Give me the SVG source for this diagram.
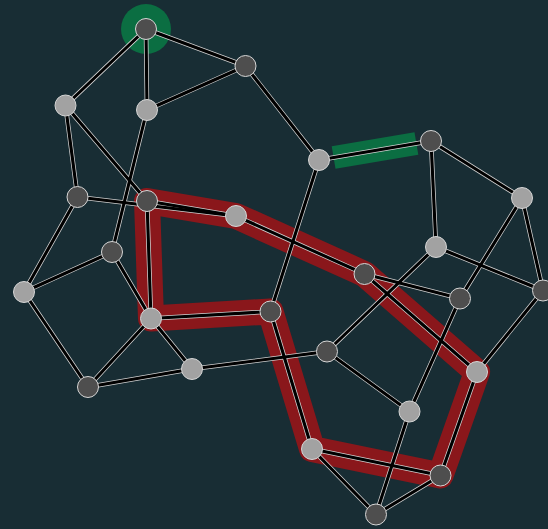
<svg xmlns="http://www.w3.org/2000/svg" width="548" height="529" viewBox="0 0 548 529">
<style>
.bg{fill:#182d34}
.e1{stroke:#d2d2d2;stroke-width:4.6;fill:none;stroke-linecap:round}
.e2{stroke:#000;stroke-width:3.1;fill:none;stroke-linecap:round}
.nd circle{stroke:#d6d6d6;stroke-width:1}
.l{fill:#a2a2a2}
.d{fill:#4e4e4e}
.hl-red{fill:none;stroke:#8a171b;stroke-width:26;stroke-linejoin:round}
.hl-green{fill:#0b6e42;stroke:none}
</style>
<defs>
<g id="edges-geo">
<line x1="146" y1="29" x2="245.5" y2="66"/>
<line x1="146" y1="29" x2="65.5" y2="105.5"/>
<line x1="146" y1="29" x2="147" y2="110"/>
<line x1="147" y1="110" x2="245.5" y2="66"/>
<line x1="245.5" y1="66" x2="319" y2="160"/>
<line x1="65.5" y1="105.5" x2="77.5" y2="197"/>
<line x1="65.5" y1="105.5" x2="147" y2="201"/>
<line x1="147" y1="110" x2="112" y2="252"/>
<line x1="77.5" y1="197" x2="236" y2="216"/>
<line x1="147" y1="201" x2="236" y2="216"/>
<line x1="147" y1="201" x2="151" y2="318.5"/>
<line x1="236" y1="216" x2="364.5" y2="274"/>
<line x1="77.5" y1="197" x2="24" y2="292"/>
<line x1="112" y1="252" x2="24" y2="292"/>
<line x1="112" y1="252" x2="151" y2="318.5"/>
<line x1="24" y1="292" x2="88" y2="387"/>
<line x1="88" y1="387" x2="151" y2="318.5"/>
<line x1="88" y1="387" x2="192" y2="369"/>
<line x1="151" y1="318.5" x2="192" y2="369"/>
<line x1="151" y1="318.5" x2="270.5" y2="311.5"/>
<line x1="270.5" y1="311.5" x2="319" y2="160"/>
<line x1="270.5" y1="311.5" x2="312" y2="449"/>
<line x1="192" y1="369" x2="327" y2="351.5"/>
<line x1="319" y1="160" x2="431" y2="141"/>
<line x1="431" y1="141" x2="436" y2="247"/>
<line x1="431" y1="141" x2="522" y2="198"/>
<line x1="436" y1="247" x2="327" y2="351.5"/>
<line x1="436" y1="247" x2="543" y2="290.5"/>
<line x1="522" y1="198" x2="460" y2="298.5"/>
<line x1="522" y1="198" x2="543" y2="290.5"/>
<line x1="364.5" y1="274" x2="460" y2="298.5"/>
<line x1="364.5" y1="274" x2="477" y2="372"/>
<line x1="460" y1="298.5" x2="409.5" y2="411.5"/>
<line x1="477" y1="372" x2="543" y2="290.5"/>
<line x1="477" y1="372" x2="440.5" y2="475.5"/>
<line x1="327" y1="351.5" x2="409.5" y2="411.5"/>
<line x1="409.5" y1="411.5" x2="376" y2="514.5"/>
<line x1="312" y1="449" x2="440.5" y2="475.5"/>
<line x1="312" y1="449" x2="376" y2="514.5"/>
<line x1="440.5" y1="475.5" x2="376" y2="514.5"/>
</g>
</defs>
<rect class="bg" x="0" y="0" width="548" height="529"/>
<g id="highlights">
<circle class="hl-green" cx="146" cy="29" r="25"/>
<line x1="333.6" y1="157.5" x2="416.4" y2="143.5" stroke="#0b6e42" stroke-width="23"/>
<polygon class="hl-red" points="147,201 236,216 364.5,274 477,372 440.5,475.5 312,449 270.5,311.5 151,318.5"/>
</g>
<g id="connectors">
<use href="#edges-geo" class="e1"/>
<use href="#edges-geo" class="e2"/>
</g>
<g class="nd">
<g id="nA"><circle class="d" cx="146" cy="29" r="10.5"/></g>
<g id="nB"><circle class="d" cx="245.5" cy="66" r="10.5"/></g>
<g id="nC"><circle class="l" cx="65.5" cy="105.5" r="10.5"/></g>
<g id="nD"><circle class="l" cx="147" cy="110" r="10.5"/></g>
<g id="nE"><circle class="l" cx="319" cy="160" r="10.5"/></g>
<g id="nF"><circle class="d" cx="431" cy="141" r="10.5"/></g>
<g id="nG"><circle class="d" cx="77.5" cy="197" r="10.5"/></g>
<g id="nH"><circle class="d" cx="147" cy="201" r="10.5"/></g>
<g id="nI"><circle class="l" cx="236" cy="216" r="10.5"/></g>
<g id="nJ"><circle class="l" cx="522" cy="198" r="10.5"/></g>
<g id="nK"><circle class="l" cx="436" cy="247" r="10.5"/></g>
<g id="nL"><circle class="d" cx="112" cy="252" r="10.5"/></g>
<g id="nM"><circle class="l" cx="24" cy="292" r="10.5"/></g>
<g id="nN"><circle class="d" cx="364.5" cy="274" r="10.5"/></g>
<g id="nO"><circle class="d" cx="460" cy="298.5" r="10.5"/></g>
<g id="nP"><circle class="d" cx="543" cy="290.5" r="10.5"/></g>
<g id="nQ"><circle class="l" cx="151" cy="318.5" r="10.5"/></g>
<g id="nR"><circle class="d" cx="270.5" cy="311.5" r="10.5"/></g>
<g id="nS"><circle class="d" cx="327" cy="351.5" r="10.5"/></g>
<g id="nT"><circle class="d" cx="88" cy="387" r="10.5"/></g>
<g id="nU"><circle class="l" cx="192" cy="369" r="10.5"/></g>
<g id="nV"><circle class="l" cx="477" cy="372" r="10.5"/></g>
<g id="nW"><circle class="l" cx="409.5" cy="411.5" r="10.5"/></g>
<g id="nX"><circle class="l" cx="312" cy="449" r="10.5"/></g>
<g id="nY"><circle class="d" cx="440.5" cy="475.5" r="10.5"/></g>
<g id="nZ"><circle class="d" cx="376" cy="514.5" r="10.5"/></g>
</g>
</svg>
